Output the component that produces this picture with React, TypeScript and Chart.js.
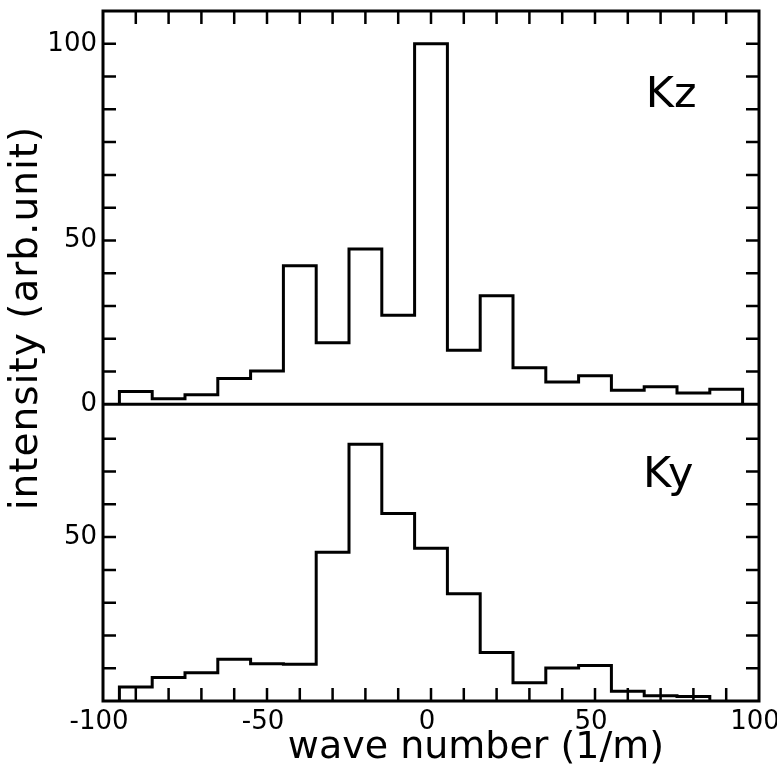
import React, { useEffect, useRef } from 'react';
import { Chart, registerables } from 'chart.js';

Chart.register(...registerables);

// Bin centres (wave number, 1/m); each bin is 10 wide
const kzBinCenters = [-90, -80, -70, -60, -50, -40, -30, -20, -10, 0, 10, 20, 30, 40, 50, 60, 70, 80, 90];
const kzValues = [3.9, 1.7, 2.9, 7.9, 10.2, 42.3, 18.8, 47.4, 27.2, 110, 16.5, 33.1, 11.2, 6.8, 8.7, 4.3, 5.4, 3.5, 4.6];

const kyBinCenters = [-90, -80, -70, -60, -50, -40, -30, -20, -10, 0, 10, 20, 30, 40, 50, 60, 70, 80];
const kyValues = [4.3, 7.2, 8.6, 12.7, 11.4, 11.2, 45.4, 78.3, 57.2, 46.6, 32.7, 14.8, 5.6, 10.1, 10.8, 3.0, 1.6, 1.4];

const binWidth = 10;

const xRange = [-100, 100];
const xTickLabels = [-100, -50, 0, 50, 100];
const xMinorTicks = [-90, -80, -70, -60, -50, -40, -30, -20, -10, 0, 10, 20, 30, 40, 50, 60, 70, 80, 90];

const kzRange = [0, 120];
const kzTickValues = [0, 50, 110];
const kzTickLabels = ['0', '50', '100'];
const kzMinorTicks = [10, 20, 30, 40, 50, 60, 70, 80, 90, 100, 110];

const kyRange = [0, 90.5];
const kyTickValues = [50];
const kyTickLabels = ['50'];
const kyMinorTicks = [10, 20, 30, 40, 50, 60, 70, 80];

const xTitle = 'wave number (1/m)';
const yTitle = 'intensity (arb.unit)';
const kzLabel = 'Kz';
const kyLabel = 'Ky';

const FONT = "'DejaVu Sans', 'Liberation Sans', sans-serif";

function histPoints(centers: number[], values: number[]) {
  const half = binWidth / 2;
  const pts: { x: number; y: number }[] = [{ x: centers[0] - half, y: 0 }];
  centers.forEach((c, i) => pts.push({ x: c - half, y: values[i] }));
  const last = centers.length - 1;
  pts.push({ x: centers[last] + half, y: values[last] });
  pts.push({ x: centers[last] + half, y: 0 });
  return pts;
}

function labelFor(values: number[], labels: string[]) {
  return (v: number | string) => {
    const n = Number(v);
    const i = values.findIndex((t) => Math.abs(t - n) < 1e-6);
    return i >= 0 ? labels[i] : null;
  };
}

function zeroPad(s: any) {
  s.paddingTop = 0;
  s.paddingBottom = 0;
  s.paddingLeft = 0;
  s.paddingRight = 0;
}

const framePlugin = {
  id: 'frameAndLabels',
  afterDraw(chart: any) {
    const { ctx, chartArea, scales } = chart;
    const { left, right, top, bottom } = chartArea;
    const x = scales.x;
    const yT = scales.yTop;
    const yB = scales.yBot;
    ctx.save();
    ctx.strokeStyle = '#000';
    ctx.fillStyle = '#000';
    ctx.lineWidth = 3;
    ctx.lineJoin = 'miter';
    ctx.strokeRect(left, top, right - left, bottom - top);
    const boundary = yT.getPixelForValue(0);
    ctx.beginPath();
    ctx.moveTo(left, boundary);
    ctx.lineTo(right, boundary);
    ctx.stroke();

    const TL = 13;
    ctx.lineWidth = 2.5;
    ctx.beginPath();
    for (const v of xMinorTicks) {
      const px = x.getPixelForValue(v);
      ctx.moveTo(px, top);
      ctx.lineTo(px, top + TL);
      ctx.moveTo(px, bottom);
      ctx.lineTo(px, bottom - TL);
    }
    for (const v of kzMinorTicks) {
      const py = yT.getPixelForValue(v);
      ctx.moveTo(left, py);
      ctx.lineTo(left + TL, py);
      ctx.moveTo(right, py);
      ctx.lineTo(right - TL, py);
    }
    for (const v of kyMinorTicks) {
      const py = yB.getPixelForValue(v);
      ctx.moveTo(left, py);
      ctx.lineTo(left + TL, py);
      ctx.moveTo(right, py);
      ctx.lineTo(right - TL, py);
    }
    ctx.stroke();

    // panel labels
    ctx.font = `43px ${FONT}`;
    ctx.textAlign = 'left';
    ctx.textBaseline = 'alphabetic';
    ctx.fillText(kzLabel, x.getPixelForValue(65.5), yT.getPixelForValue(90.7));
    ctx.fillText(kyLabel, x.getPixelForValue(64.6), yB.getPixelForValue(65.3));

    // x title
    ctx.font = `38px ${FONT}`;
    ctx.textAlign = 'center';
    ctx.fillText(xTitle, 476, 758);

    // y title
    ctx.save();
    ctx.translate(37, 318);
    ctx.rotate(-Math.PI / 2);
    ctx.font = `39px ${FONT}`;
    try { (ctx as any).letterSpacing = '1px'; } catch (e) {}
    ctx.textAlign = 'center';
    ctx.fillText(yTitle, 0, 0);
    ctx.restore();

    ctx.restore();
  },
};

export default function App() {
  const ref = useRef<HTMLCanvasElement>(null);
  useEffect(() => {
    if (!ref.current) return;
    const tickFont = { family: FONT, size: 26 };
    const hidden = { display: false, drawTicks: false };
    const chart = new Chart(ref.current, {
      type: 'line',
      data: {
        datasets: [
          {
            label: kzLabel,
            data: histPoints(kzBinCenters, kzValues),
            yAxisID: 'yTop',
            xAxisID: 'x',
            borderColor: '#000',
            borderWidth: 3,
            pointRadius: 0,
            stepped: true,
            fill: false,
            clip: false,
            borderJoinStyle: 'miter',
          },
          {
            label: kyLabel,
            data: histPoints(kyBinCenters, kyValues),
            yAxisID: 'yBot',
            xAxisID: 'x',
            borderColor: '#000',
            borderWidth: 3,
            pointRadius: 0,
            stepped: true,
            fill: false,
            clip: false,
            borderJoinStyle: 'miter',
          },
        ],
      },
      options: {
        responsive: false,
        animation: false,
        layout: { autoPadding: false, padding: { top: 11, right: 18, left: 0, bottom: 0 } },
        plugins: { legend: { display: false }, tooltip: { enabled: false } },
        scales: {
          x: {
            type: 'linear',
            position: 'bottom',
            min: xRange[0],
            max: xRange[1],
            grid: hidden,
            border: { display: false },
            ticks: {
              stepSize: 50,
              autoSkip: false,
              maxRotation: 0,
              padding: 6,
              labelOffset: -4,
              color: '#000',
              font: tickFont,
              callback: (v: any) => (xTickLabels.includes(Number(v)) ? String(v) : null),
            },
            afterFit: (s: any) => { s.height = 66; zeroPad(s); },
          },
          yBot: {
            type: 'linear',
            position: 'left',
            stack: 'panels',
            stackWeight: kyRange[1] - kyRange[0],
            min: kyRange[0],
            max: kyRange[1],
            grid: hidden,
            border: { display: false },
            ticks: {
              stepSize: 10,
              autoSkip: false,
              padding: 6,
              color: '#000',
              font: tickFont,
              callback: labelFor(kyTickValues, kyTickLabels),
            },
            afterFit: (s: any) => { s.width = 103; zeroPad(s); },
          },
          yTop: {
            type: 'linear',
            position: 'left',
            stack: 'panels',
            stackWeight: kzRange[1] - kzRange[0],
            min: kzRange[0],
            max: kzRange[1],
            grid: hidden,
            border: { display: false },
            ticks: {
              stepSize: 10,
              autoSkip: false,
              padding: 6,
              color: '#000',
              font: tickFont,
              callback: labelFor(kzTickValues, kzTickLabels),
            },
            afterFit: (s: any) => { s.width = 103; zeroPad(s); },
          },
        },
      } as any,
      plugins: [framePlugin],
    });
    return () => chart.destroy();
  }, []);
  return (
    <div style={{ position: 'fixed', left: 0, top: 0, width: 777, height: 767, background: '#fff' }}>
      <canvas ref={ref} width={777} height={767} style={{ display: 'block' }} />
    </div>
  );
}
